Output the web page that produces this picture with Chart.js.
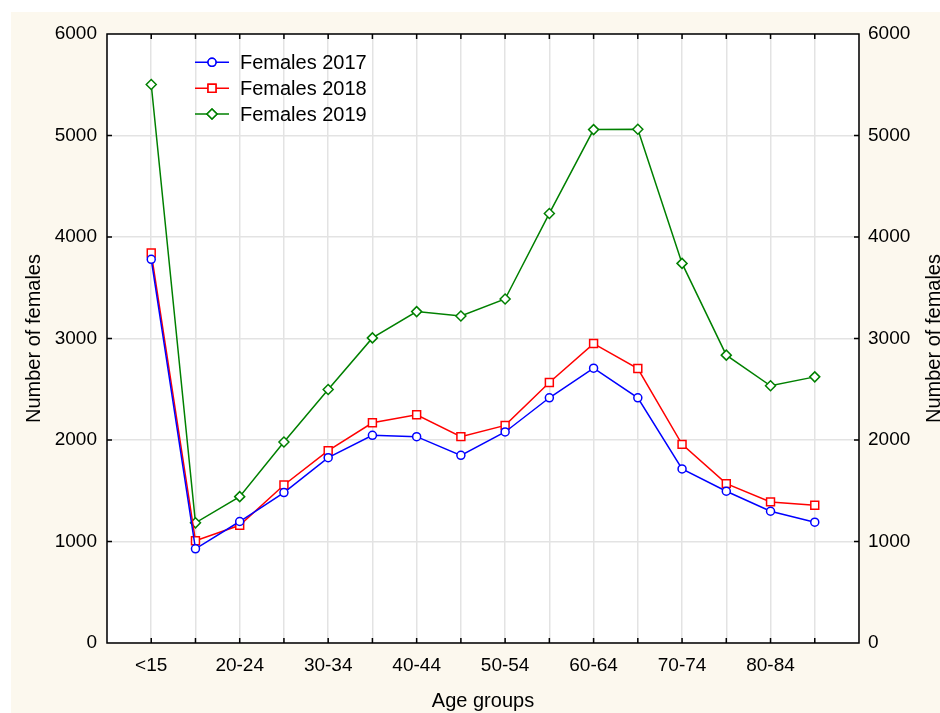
<!DOCTYPE html>
<html>
<head>
<meta charset="utf-8">
<script src="https://cdn.jsdelivr.net/npm/chart.js@4.4.1/dist/chart.umd.min.js"></script>
<style>
  html, body { margin: 0; padding: 0; background: #ffffff; overflow: hidden; }
  #wrap { position: relative; width: 940px; height: 713px; overflow: hidden; }
  #chart { position: absolute; left: 11px; top: 12px; background: #fcf8ee; }
</style>
</head>
<body>
<div id="wrap">
  <canvas id="chart" width="929" height="701" style="width:929px;height:701px"></canvas>
</div>
<script>
// Age groups on the x axis (only every other one gets a label)
const ageGroups = ['<15', '15-19', '20-24', '25-29', '30-34', '35-39', '40-44', '45-49',
    '50-54', '55-59', '60-64', '65-69', '70-74', '75-79', '80-84', '85+'];

// Number of females per age group
const females2017 = [3780, 928, 1197, 1482, 1826, 2046, 2033, 1849, 2079, 2416, 2708, 2416, 1715, 1495, 1298, 1190];
const females2018 = [3842, 1007, 1160, 1557, 1895, 2170, 2249, 2033, 2144, 2566, 2950, 2704, 1957, 1570, 1390, 1357];
const females2019 = [5502, 1184, 1442, 1980, 2498, 3006, 3265, 3222, 3389, 4232, 5058, 5061, 3740, 2836, 2534, 2622];

const seriesNames = ['Females 2017', 'Females 2018', 'Females 2019'];
const yMin = 0;
const yMax = 6000;
const yStep = 1000;

const FONT = 'Arial, "Liberation Sans", Helvetica, sans-serif';
const toPoints = (arr) => arr.map((v, i) => ({ x: i, y: v }));

// Cream page, white plot area
const plotBackground = {
    id: 'plotBackground',
    beforeDraw(chart) {
        const { ctx, chartArea: a } = chart;
        ctx.save();
        ctx.fillStyle = '#ffffff';
        ctx.fillRect(a.left, a.top, a.right - a.left, a.bottom - a.top);
        ctx.restore();
    }
};

// Black frame with small inward ticks on all four sides, plus the right axis title
const frameAndTicks = {
    id: 'frameAndTicks',
    afterDraw(chart) {
        const { ctx, chartArea: a, scales } = chart;
        const tick = 5;
        ctx.save();
        ctx.strokeStyle = '#000000';
        ctx.lineWidth = 1.5;
        ctx.strokeRect(a.left, a.top, a.right - a.left, a.bottom - a.top);
        ctx.beginPath();
        for (let i = 0; i < ageGroups.length; i++) {
            const x = scales.x.getPixelForValue(i);
            ctx.moveTo(x, a.bottom); ctx.lineTo(x, a.bottom - tick);
            ctx.moveTo(x, a.top); ctx.lineTo(x, a.top + tick);
        }
        for (let v = yMin + yStep; v < yMax; v += yStep) {
            const y = scales.y.getPixelForValue(v);
            ctx.moveTo(a.left, y); ctx.lineTo(a.left + tick, y);
            ctx.moveTo(a.right, y); ctx.lineTo(a.right - tick, y);
        }
        ctx.stroke();

        // right axis title reads bottom-to-top like the left one
        ctx.translate(923, (a.top + a.bottom) / 2);
        ctx.rotate(-Math.PI / 2);
        ctx.fillStyle = '#000000';
        ctx.font = '20px ' + FONT;
        ctx.textAlign = 'center';
        ctx.textBaseline = 'middle';
        ctx.fillText('Number of females', 0, 0);
        ctx.restore();
    }
};

// Legend drawn inside the plot, top-left
const innerLegend = {
    id: 'innerLegend',
    afterDatasetsDraw(chart) {
        const { ctx, chartArea: a } = chart;
        const x0 = a.left + 88;
        const x1 = a.left + 122;
        const xm = (x0 + x1) / 2;
        const rows = [a.top + 28.3, a.top + 54.3, a.top + 80];
        ctx.save();
        chart.data.datasets.forEach((ds, i) => {
            const y = rows[i];
            ctx.strokeStyle = ds.borderColor;
            ctx.lineWidth = 1.5;
            ctx.beginPath();
            ctx.moveTo(x0, y); ctx.lineTo(x1, y);
            ctx.stroke();
            Chart.helpers.drawPoint(ctx, {
                pointStyle: ds.pointStyle,
                radius: ds.pointRadius,
                borderWidth: ds.pointBorderWidth,
                rotation: 0
            }, xm, y);
            ctx.fillStyle = '#ffffff';
            ctx.fill();
            ctx.stroke();
            ctx.fillStyle = '#000000';
            ctx.font = '20px ' + FONT;
            ctx.textAlign = 'left';
            ctx.textBaseline = 'middle';
            ctx.fillText(ds.label, a.left + 133, y + 1);
        });
        ctx.restore();
    }
};

const makeSet = (label, data, color, style, radius) => ({
    label: label,
    data: toPoints(data),
    borderColor: color,
    backgroundColor: '#ffffff',
    borderWidth: 1.5,
    pointStyle: style,
    pointRadius: radius,
    pointBorderWidth: 1.5,
    pointBorderColor: color,
    pointBackgroundColor: '#ffffff',
    tension: 0
});

const gridColor = '#e3e3e3';
const plainNumber = (v) => String(v);

new Chart(document.getElementById('chart'), {
    type: 'line',
    data: {
        datasets: [
            makeSet(seriesNames[0], females2017, '#0000ff', 'circle', 4),
            makeSet(seriesNames[1], females2018, '#ff0000', 'rect', 5.6),
            makeSet(seriesNames[2], females2019, '#008000', 'rectRot', 5)
        ]
    },
    options: {
        responsive: false,
        animation: false,
        devicePixelRatio: 1,
        events: [],
        layout: { padding: { top: 22, left: 0, right: 0, bottom: 0 } },
        plugins: {
            legend: { display: false },
            tooltip: { enabled: false }
        },
        scales: {
            x: {
                type: 'linear',
                min: -1,
                max: ageGroups.length,
                afterFit: (s) => { s.height = 70; },
                border: { display: false },
                grid: { color: gridColor, lineWidth: 1.5, drawTicks: false },
                ticks: {
                    stepSize: 1,
                    autoSkip: false,
                    maxRotation: 0,
                    padding: 11,
                    color: '#000000',
                    font: { family: FONT, size: 19 },
                    callback: (v) => (v >= 0 && v < ageGroups.length && v % 2 === 0) ? ageGroups[v] : ''
                },
                title: {
                    display: true,
                    text: 'Age groups',
                    color: '#000000',
                    font: { family: FONT, size: 20 },
                    padding: { top: 0, bottom: 0 }
                }
            },
            y: {
                position: 'left',
                min: yMin,
                max: yMax,
                afterFit: (s) => { s.width = 96; },
                border: { display: false },
                grid: { color: gridColor, lineWidth: 1.5, drawTicks: false },
                ticks: {
                    stepSize: yStep,
                    padding: 10,
                    color: '#000000',
                    font: { family: FONT, size: 19 },
                    callback: plainNumber
                },
                title: {
                    display: true,
                    text: 'Number of females',
                    color: '#000000',
                    font: { family: FONT, size: 20 },
                    padding: { top: 11, bottom: 0 }
                }
            },
            y2: {
                position: 'right',
                min: yMin,
                max: yMax,
                afterFit: (s) => { s.width = 81; },
                border: { display: false },
                grid: { drawOnChartArea: false, drawTicks: false },
                ticks: {
                    stepSize: yStep,
                    padding: 9,
                    color: '#000000',
                    font: { family: FONT, size: 19 },
                    callback: plainNumber
                }
            }
        }
    },
    plugins: [plotBackground, innerLegend, frameAndTicks]
});
</script>
</body>
</html>
